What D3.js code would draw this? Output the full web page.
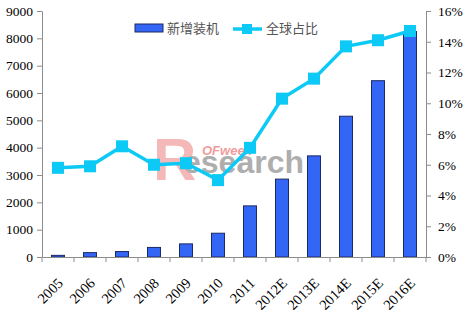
<!DOCTYPE html>
<html>
<head>
<meta charset="utf-8">
<script src="https://cdn.jsdelivr.net/npm/d3@7"></script>
<style>
  body { margin: 0; background: #fff; }
  svg { display: block; }
  .axis text { font-family: "Times New Roman", "Liberation Serif", serif; font-size: 13.5px; fill: #000; }
  .axis path, .axis line { stroke: #8c8c8c; }
</style>
</head>
<body>
<svg id="chart" width="471" height="321"></svg>
<script>
// data
const years = ['2005', '2006', '2007', '2008', '2009', '2010', '2011', '2012E', '2013E', '2014E', '2015E', '2016E']
const newInstalled = [60, 160, 200, 350, 480, 870, 1870, 2850, 3700, 5150, 6450, 8250]
const globalShare = [5.8, 5.9, 7.2, 6.0, 6.1, 5.0, 7.1, 10.3, 11.6, 13.7, 14.1, 14.7]
const leftTicks = [0, 1000, 2000, 3000, 4000, 5000, 6000, 7000, 8000, 9000]
const rightTicks = [0, 2, 4, 6, 8, 10, 12, 14, 16]
const legendNames = ['新增装机', '全球占比']

const svg = d3.select('#chart')
const margin = { left: 42, right: 45, top: 11, bottom: 64 }
const width = 471 - margin.left - margin.right
const height = 321 - margin.top - margin.bottom

// watermark (drawn first so the chart sits on top of it)
const wm = svg.append('g').attr('opacity', 0.6)
  .style('font-family', '"Liberation Sans", Arial, sans-serif')
  .style('font-weight', 'bold')
wm.append('text')
  .attr('x', 153).attr('y', 180)
  .style('font-size', '60px')
  .attr('fill', '#f08a8a')
  .text('R')
wm.append('text')
  .attr('x', 183).attr('y', 173)
  .style('font-size', '32px')
  .attr('fill', '#7a7a7a')
  .text('esearch')
wm.append('text')
  .attr('x', 202).attr('y', 155)
  .style('font-style', 'italic').style('font-size', '13px')
  .attr('fill', '#e85a5a')
  .text('OFweek')

const g = svg.append('g').attr('transform', `translate(${margin.left},${margin.top})`)

const x = d3.scaleBand().domain(years).range([0, width])
const yLeft = d3.scaleLinear().domain([0, 9000]).range([height, 0])
const yRight = d3.scaleLinear().domain([0, 16]).range([height, 0])

// bars
const barW = 13
g.selectAll('.bar')
  .data(years)
  .join('rect')
  .attr('class', 'bar')
  .attr('x', d => x(d) + x.bandwidth() / 2 - barW / 2)
  .attr('width', barW)
  .attr('y', (d, i) => yLeft(newInstalled[i]))
  .attr('height', (d, i) => height - yLeft(newInstalled[i]))
  .attr('fill', '#3366f5')
  .attr('stroke', '#1b2a66')
  .attr('stroke-width', 1)

// axes
const axLeft = g.append('g').attr('class', 'axis')
  .call(d3.axisLeft(yLeft).tickValues(leftTicks).tickSize(5).tickSizeOuter(0).tickFormat(d3.format('d')))
axLeft.selectAll('text').attr('x', -9)

const axRight = g.append('g').attr('class', 'axis')
  .attr('transform', `translate(${width},0)`)
  .call(d3.axisRight(yRight).tickValues(rightTicks).tickSize(5).tickSizeOuter(0).tickFormat(d => d + '%'))
axRight.selectAll('text').attr('x', 12)

const axBottom = g.append('g').attr('class', 'axis')
  .attr('transform', `translate(0,${height})`)
  .call(d3.axisBottom(x).tickSize(0).tickSizeOuter(0))
axBottom.selectAll('.tick text')
  .style('font-size', '14.5px')
  .attr('text-anchor', 'end')
  .attr('y', 0)
  .attr('dy', 0)
  .attr('transform', 'translate(6,27) rotate(-45)')
// tick marks between categories
axBottom.selectAll('.sep')
  .data(d3.range(years.length + 1))
  .join('line')
  .attr('x1', i => i * x.step()).attr('x2', i => i * x.step())
  .attr('y1', 0).attr('y2', 5)
  .attr('stroke', '#8c8c8c')

// line
const lineColor = '#0ccaf5'
const line = d3.line()
  .x((d, i) => x(years[i]) + x.bandwidth() / 2)
  .y(d => yRight(d))
g.append('path')
  .datum(globalShare)
  .attr('d', line)
  .attr('fill', 'none')
  .attr('stroke', lineColor)
  .attr('stroke-width', 3.5)
const mk = 12
g.selectAll('.mk')
  .data(globalShare)
  .join('rect')
  .attr('x', (d, i) => x(years[i]) + x.bandwidth() / 2 - mk / 2)
  .attr('y', d => yRight(d) - mk / 2)
  .attr('width', mk).attr('height', mk)
  .attr('fill', lineColor)

// legend
const lg = svg.append('g')
  .style('font-family', '"Noto Sans CJK SC", sans-serif')
  .style('font-size', '13px')
lg.append('rect').attr('x', 135).attr('y', 24).attr('width', 28).attr('height', 8)
  .attr('fill', '#3366f5').attr('stroke', '#1b2a66')
lg.append('text').attr('x', 167).attr('y', 33).attr('fill', '#555').text(legendNames[0])
lg.append('line').attr('x1', 233).attr('x2', 262).attr('y1', 29).attr('y2', 29)
  .attr('stroke', lineColor).attr('stroke-width', 3.5)
lg.append('rect').attr('x', 242).attr('y', 24).attr('width', 10).attr('height', 10).attr('fill', lineColor)
lg.append('text').attr('x', 266).attr('y', 33).attr('fill', '#555').text(legendNames[1])
</script>
</body>
</html>
